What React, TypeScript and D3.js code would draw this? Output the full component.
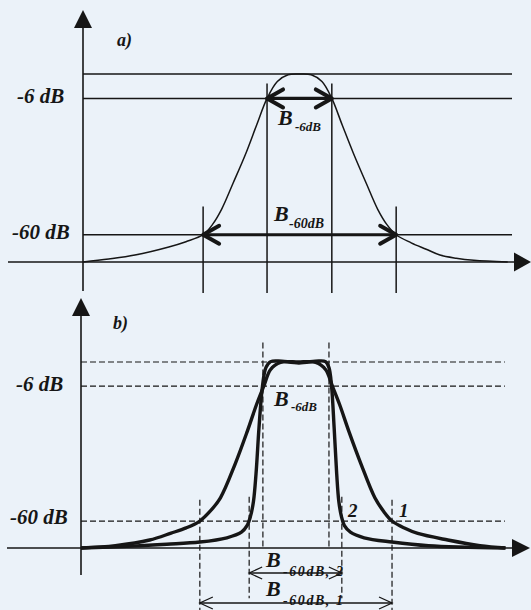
import React from "react";
import * as d3 from "d3";

// Schematic filter responses: x = relative frequency (0..100), y = relative level (0 = axis, 100 = peak)
const levelTicks = [
  { label: "-6 dB", level: 87 },
  { label: "-60 dB", level: 14.5 },
];
const peakLevel = 100;

// a) single response
const curveA: [number, number][] = [
  [0, 0], [6, 1.6], [12.1, 3.7], [20, 8], [24, 10.8], [28, 14.5], [30.2, 20],
  [32.3, 28], [35, 42], [38, 58], [40.5, 73], [42.9, 87], [45.3, 96], [47.8, 99.6],
  [50.5, 100], [53.2, 99.6], [55.7, 96], [58, 87], [60.4, 73], [63, 58], [66, 42],
  [68.7, 28], [70.8, 20], [73, 14.5], [76.5, 10.2], [80, 6.8], [83.2, 3.7],
  [87, 2], [91.1, 0.9], [99, 0],
];
const bandA6 = [42.9, 58];
const bandA60 = [28, 73];

// b) response 1 (gentle skirts) and response 2 (steep skirts)
const curveB1: [number, number][] = [
  [0, 0], [8, 1.3], [16, 4.3], [21, 8], [24.5, 10.8], [27.7, 14.5], [30, 19.5],
  [32.5, 27], [35.9, 45], [38.8, 63], [40.9, 77], [42.6, 87], [44.2, 96],
  [46.5, 99.8], [50.6, 100], [54.7, 99.8], [57, 96], [58.6, 87], [60.3, 77],
  [62.4, 63], [65.3, 45], [68.5, 27], [70.6, 19.5], [72.5, 14.5], [75.5, 10.6],
  [78.5, 7.8], [85.5, 4.3], [93, 1.3], [99, 0],
];
const curveB2: [number, number][] = [
  [0, 0], [12, 1], [20, 2], [27.7, 3.2], [34, 5.5], [37.4, 8.5], [38.7, 12],
  [39.5, 17], [40.2, 25], [40.8, 40], [41.5, 65], [42.3, 87], [43.1, 97],
  [44.2, 100.2], [46, 100.6], [50.8, 99.5], [55.4, 100.6], [57, 100.2], [57.8, 97],
  [58.4, 87], [59, 65], [59.6, 40], [60.1, 25], [60.7, 17], [61.4, 12],
  [62.8, 8.5], [66, 5.5], [72.5, 3.2], [81, 1.2], [98.8, 0],
];
const bandB6 = [42.4, 57.8];
const bandB60_2 = [39.2, 60.8];
const bandB60_1 = [27.7, 72.5];

const INK = "#161616";
const BG = "#ebf2f9";
const FONT = "'Liberation Serif', 'Times New Roman', serif";

const labelStyle: React.CSSProperties = {
  fontFamily: FONT,
  fontWeight: "bold",
  fontStyle: "italic",
};

function chevron(x: number, y: number, dir: number, dx: number, dy: number) {
  // open arrowhead with its tip at (x, y); dir = -1 points left, +1 points right
  return `M${x - dir * dx},${y - dy}L${x},${y}L${x - dir * dx},${y + dy}`;
}

function triangleUp(x: number, y: number, h: number, w: number) {
  return `M${x},${y}L${x - w},${y + h}L${x + w},${y + h}Z`;
}
function triangleRight(x: number, y: number, h: number, w: number) {
  return `M${x},${y}L${x - h},${y - w}L${x - h},${y + w}Z`;
}

export default function App() {
  // panel a scales
  const xa = d3.scaleLinear().domain([0, 100]).range([83, 512]);
  const ya = d3.scaleLinear().domain([0, 100]).range([262, 74]);
  // panel b scales
  const xb = d3.scaleLinear().domain([0, 100]).range([81, 510]);
  const yb = d3.scaleLinear().domain([0, 100]).range([548, 362]);

  const lineA = d3
    .line<[number, number]>()
    .x((d) => xa(d[0]))
    .y((d) => ya(d[1]))
    .curve(d3.curveCatmullRom.alpha(0.5));
  const lineB = d3
    .line<[number, number]>()
    .x((d) => xb(d[0]))
    .y((d) => yb(d[1]))
    .curve(d3.curveCatmullRom.alpha(0.5));

  const dash = "6 3";
  const lvl6 = levelTicks[0].level;
  const lvl60 = levelTicks[1].level;

  return (
    <svg
      width={531}
      height={610}
      style={{ position: "absolute", left: 0, top: 0, display: "block" }}
    >
      <rect x={0} y={0} width={531} height={610} fill={BG} />

      {/* ---------- a) ---------- */}
      <g>
        {/* axes */}
        <line x1={xa(0)} y1={20} x2={xa(0)} y2={291} stroke={INK} strokeWidth={1.6} />
        <path d={triangleUp(xa(0), 10, 18, 9)} fill={INK} />
        <line x1={8} y1={ya(0)} x2={520} y2={ya(0)} stroke={INK} strokeWidth={1.6} />
        <path d={triangleRight(531, ya(0), 17, 9.5)} fill={INK} />

        {/* reference levels */}
        {[peakLevel, lvl6, lvl60].map((l) => (
          <line key={l} x1={xa(0)} x2={xa(100)} y1={ya(l)} y2={ya(l)} stroke={INK} strokeWidth={1.5} />
        ))}

        {/* band edges */}
        {bandA6.map((f) => (
          <line key={"a6" + f} x1={xa(f)} x2={xa(f)} y1={ya(95)} y2={ya(-16.5)} stroke={INK} strokeWidth={1.5} />
        ))}
        {bandA60.map((f) => (
          <line key={"a60" + f} x1={xa(f)} x2={xa(f)} y1={ya(29.5)} y2={ya(-16.5)} stroke={INK} strokeWidth={1.5} />
        ))}

        <path d={lineA(curveA) || ""} fill="none" stroke={INK} strokeWidth={1.5} />

        {/* bandwidth arrows */}
        {[
          { band: bandA6, l: lvl6 },
          { band: bandA60, l: lvl60 },
        ].map(({ band, l }, i) => (
          <g key={"arA" + i} stroke={INK} fill="none" strokeLinecap="round" strokeLinejoin="round">
            <line x1={xa(band[0])} x2={xa(band[1])} y1={ya(l)} y2={ya(l)} strokeWidth={3.2} />
            <path d={chevron(xa(band[0]), ya(l), -1, 16, 9)} strokeWidth={4} />
            <path d={chevron(xa(band[1]), ya(l), 1, 16, 9)} strokeWidth={4} />
          </g>
        ))}

        {/* labels */}
        <text x={117} y={46} fontSize={18} fill={INK} style={labelStyle}>a)</text>
        <text x={17} y={ya(lvl6) + 5} fontSize={21} fill={INK} style={labelStyle}>{levelTicks[0].label}</text>
        <text x={12} y={ya(lvl60) + 4} fontSize={21} fill={INK} style={labelStyle}>{levelTicks[1].label}</text>

        <text x={278} y={125} fontSize={22} fill={INK} style={labelStyle}>B</text>
        <text x={295} y={131} fontSize={13} fill={INK} style={labelStyle}>-6dB</text>

        <text x={274} y={221} fontSize={22} fill={INK} style={labelStyle}>B</text>
        <text x={289} y={228} fontSize={14} fill={INK} style={labelStyle}>-60dB</text>
      </g>

      {/* ---------- b) ---------- */}
      <g>
        <line x1={xb(0)} y1={308} x2={xb(0)} y2={575} stroke={INK} strokeWidth={1.6} />
        <path d={triangleUp(xb(0), 298, 18, 9)} fill={INK} />
        <line x1={7} y1={yb(0)} x2={515} y2={yb(0)} stroke={INK} strokeWidth={1.6} />
        <path d={triangleRight(530, yb(0), 18, 9)} fill={INK} />

        {[peakLevel, lvl6, lvl60].map((l) => (
          <line key={"b" + l} x1={xb(0)} x2={xb(98.8)} y1={yb(l)} y2={yb(l)} stroke={INK} strokeWidth={1.2} strokeDasharray={dash} />
        ))}

        {bandB6.map((f) => (
          <line key={"b6" + f} x1={xb(f)} x2={xb(f)} y1={yb(110.5)} y2={yb(0)} stroke={INK} strokeWidth={1.2} strokeDasharray={dash} />
        ))}
        {bandB60_2.map((f) => (
          <line key={"b602" + f} x1={xb(f)} x2={xb(f)} y1={yb(27.5)} y2={yb(-27)} stroke={INK} strokeWidth={1.2} strokeDasharray={dash} />
        ))}
        {bandB60_1.map((f) => (
          <line key={"b601" + f} x1={xb(f)} x2={xb(f)} y1={yb(26)} y2={yb(-34)} stroke={INK} strokeWidth={1.2} strokeDasharray={dash} />
        ))}

        <path d={lineB(curveB1) || ""} fill="none" stroke={INK} strokeWidth={3.4} strokeLinejoin="round" />
        <path d={lineB(curveB2) || ""} fill="none" stroke={INK} strokeWidth={3.4} strokeLinejoin="round" />

        {/* bandwidth arrows below the axis */}
        {[
          { band: bandB60_2, y: 573 },
          { band: bandB60_1, y: 603 },
        ].map(({ band, y }, i) => (
          <g key={"arB" + i} stroke={INK} fill="none" strokeWidth={1.3}>
            <line x1={xb(band[0])} x2={xb(band[1])} y1={y} y2={y} />
            <path d={chevron(xb(band[0]), y, -1, 13, 6)} />
            <path d={chevron(xb(band[1]), y, 1, 13, 6)} />
          </g>
        ))}

        <text x={113} y={329} fontSize={18} fill={INK} style={labelStyle}>b)</text>
        <text x={16} y={yb(lvl6) + 5} fontSize={21} fill={INK} style={labelStyle}>{levelTicks[0].label}</text>
        <text x={10} y={yb(lvl60) + 3} fontSize={21} fill={INK} style={labelStyle}>{levelTicks[1].label}</text>

        <text x={274} y={406} fontSize={22} fill={INK} style={labelStyle}>B</text>
        <text x={291} y={411} fontSize={13} fill={INK} style={labelStyle}>-6dB</text>

        <text x={348} y={517} fontSize={19} fill={INK} style={labelStyle}>2</text>
        <text x={399} y={517} fontSize={19} fill={INK} style={labelStyle}>1</text>

        <text x={266} y={567} fontSize={22} fill={INK} style={labelStyle}>B</text>
        <text x={283} y={576} fontSize={14} fill={INK} style={labelStyle} textLength={60} lengthAdjust="spacing">-60dB, 2</text>

        <text x={266} y={596} fontSize={22} fill={INK} style={labelStyle}>B</text>
        <text x={283} y={605} fontSize={14} fill={INK} style={labelStyle} textLength={60} lengthAdjust="spacing">-60dB, 1</text>
      </g>
    </svg>
  );
}
